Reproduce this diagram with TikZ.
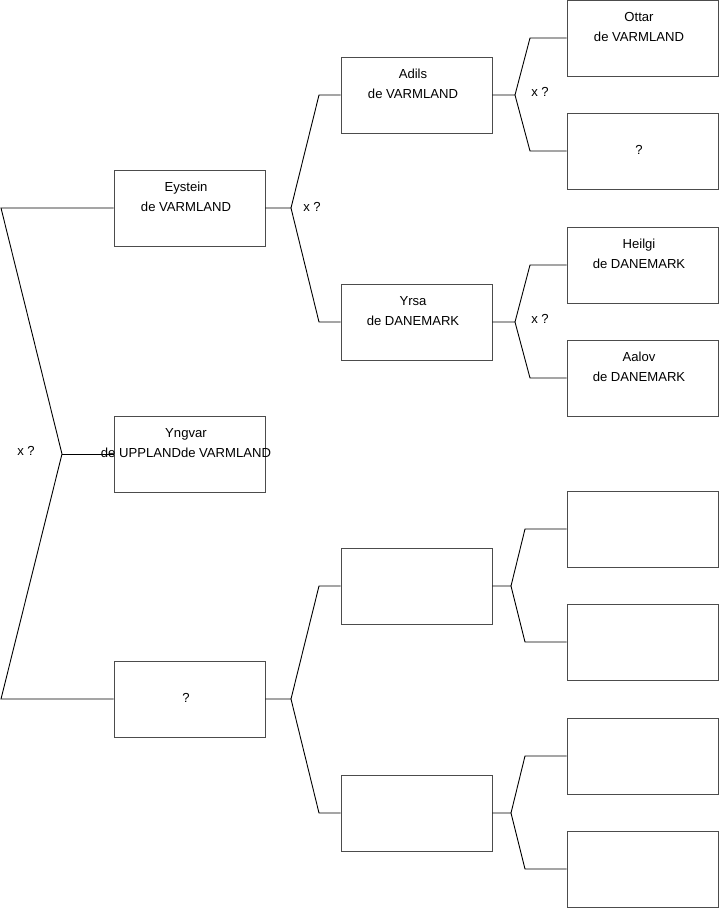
\documentclass[tikz,border=0pt]{standalone}
\usepackage{fontspec}
\setmainfont{Liberation Sans}
\begin{document}
\begin{tikzpicture}[x=1pt,y=-1pt,
  box/.style={draw=black!70,line width=0.9pt,minimum width=151pt,minimum height=76pt,inner sep=0pt},
  txt/.style={align=center,inner sep=0pt,font=\fontsize{13.1}{19.7}\selectfont},
  lbl/.style={inner sep=0pt,font=\fontsize{13.1}{15}\selectfont},
  con/.style={draw=black,line width=0.9pt}]
\useasboundingbox (0,0) rectangle (719,908);
% column 1
\node[box] (eystein) at (189.5,208) {};
\node[box] (yngvar) at (189.5,454) {};
\node[box] (q1) at (189.5,699) {};
% column 2
\node[box] (adils) at (416.5,95) {};
\node[box] (yrsa) at (416.5,322) {};
\node[box] (e2a) at (416.5,586) {};
\node[box] (e2b) at (416.5,813) {};
% column 3
\node[box] (ottar) at (642.5,38) {};
\node[box] (q3) at (642.5,151) {};
\node[box] (heilgi) at (642.5,265) {};
\node[box] (aalov) at (642.5,378) {};
\node[box] (e3a) at (642.5,529) {};
\node[box] (e3b) at (642.5,642) {};
\node[box] (e3c) at (642.5,756) {};
\node[box] (e3d) at (642.5,869) {};
% texts
\node[txt] (t1) at ([xshift=-3.5pt,yshift=11pt]eystein.center) {Eystein\\de VARMLAND};
\node[txt] (t2) at ([xshift=-3.5pt,yshift=11pt]yngvar.center) {Yngvar\\de UPPLANDde VARMLAND};
\node[txt] (t3) at ([xshift=-3.5pt,yshift=1pt]q1.center) {?};
\node[txt] (t4) at ([xshift=-3.5pt,yshift=11pt]adils.center) {Adils\\de VARMLAND};
\node[txt] (t5) at ([xshift=-3.5pt,yshift=11pt]yrsa.center) {Yrsa\\de DANEMARK};
\node[txt] (t6) at ([xshift=-3.5pt,yshift=11pt]ottar.center) {Ottar\\de VARMLAND};
\node[txt] (t7) at ([xshift=-3.5pt,yshift=1pt]q3.center) {?};
\node[txt] (t8) at ([xshift=-3.5pt,yshift=11pt]heilgi.center) {Heilgi\\de DANEMARK};
\node[txt] (t9) at ([xshift=-3.5pt,yshift=11pt]aalov.center) {Aalov\\de DANEMARK};
% x ? labels
\node[lbl] (x1) at (26,451) {x ?};
\node[lbl] (x2) at (312,207) {x ?};
\node[lbl] (x3) at (540,92) {x ?};
\node[lbl] (x4) at (540,319) {x ?};
% bracket coordinates
\coordinate (a0) at (1,208);
\coordinate (a1) at (62,454);
\coordinate (a2) at (1,699);
\coordinate (b0) at (291,208);
\coordinate (b1) at (319,95);
\coordinate (b2) at (319,322);
\coordinate (c0) at (515,95);
\coordinate (c1) at (530,38);
\coordinate (c2) at (530,151);
\coordinate (d0) at (515,322);
\coordinate (d1) at (530,265);
\coordinate (d2) at (530,378);
\coordinate (f0) at (291,699);
\coordinate (f1) at (319,586);
\coordinate (f2) at (319,813);
\coordinate (g0) at (511,586);
\coordinate (g1) at (525,529);
\coordinate (g2) at (525,642);
\coordinate (h0) at (511,813);
\coordinate (h1) at (525,756);
\coordinate (h2) at (525,869);
% connectors
\draw[con] (eystein.west) -- (a0) -- (a1) -- (a2) -- (q1.west);
\draw[con] (a1) -- (yngvar.west);
\draw[con] (eystein.east) -- (b0) -- (b1) -- (adils.west);
\draw[con] (b0) -- (b2) -- (yrsa.west);
\draw[con] (adils.east) -- (c0) -- (c1) -- (ottar.west);
\draw[con] (c0) -- (c2) -- (q3.west);
\draw[con] (yrsa.east) -- (d0) -- (d1) -- (heilgi.west);
\draw[con] (d0) -- (d2) -- (aalov.west);
\draw[con] (q1.east) -- (f0) -- (f1) -- (e2a.west);
\draw[con] (f0) -- (f2) -- (e2b.west);
\draw[con] (e2a.east) -- (g0) -- (g1) -- (e3a.west);
\draw[con] (g0) -- (g2) -- (e3b.west);
\draw[con] (e2b.east) -- (h0) -- (h1) -- (e3c.west);
\draw[con] (h0) -- (h2) -- (e3d.west);
\end{tikzpicture}
\end{document}
